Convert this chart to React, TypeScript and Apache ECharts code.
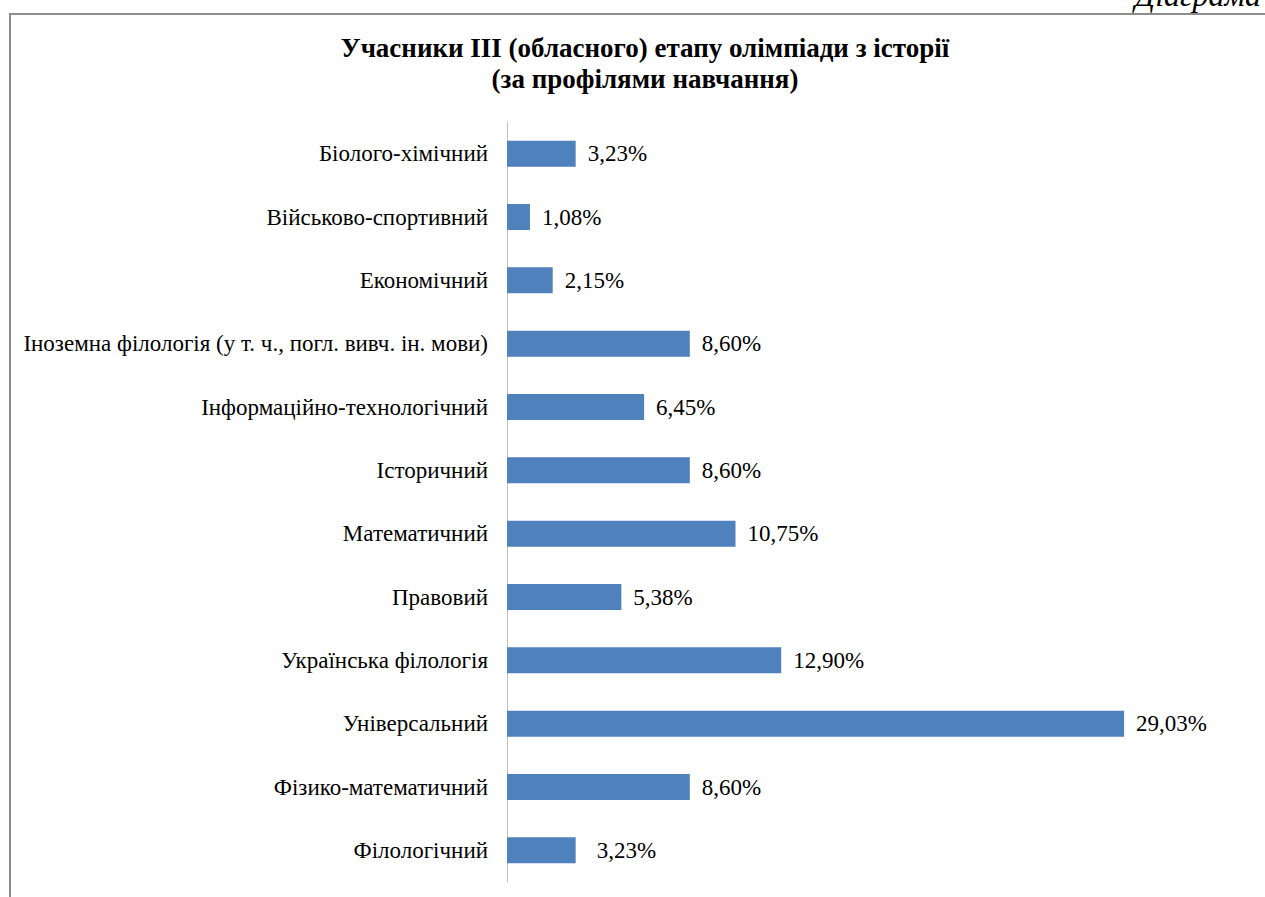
import React, { useEffect, useRef } from "react";
import * as echarts from "echarts";

const titleLines = ["Учасники III (обласного) етапу олімпіади з історії", "(за профілями навчання)"];
const cornerCaption = "Діаграма";
const categories = [
  "Біолого-хімічний",
  "Військово-спортивний",
  "Економічний",
  "Іноземна філологія (у т. ч., погл. вивч. ін. мови)",
  "Інформаційно-технологічний",
  "Історичний",
  "Математичний",
  "Правовий",
  "Українська філологія",
  "Універсальний",
  "Фізико-математичний",
  "Філологічний",
];
const values = [3.23, 1.08, 2.15, 8.6, 6.45, 8.6, 10.75, 5.38, 12.9, 29.03, 8.6, 3.23];
const axisMax = 35;

const FONT = "Liberation Serif";

export default function App() {
  const ref = useRef<HTMLDivElement>(null);
  useEffect(() => {
    if (!ref.current) return;
    const chart = echarts.init(ref.current, null, { renderer: "svg" });
    const data = values.map((v, i) => ({
      value: v,
      label: i === values.length - 1 ? { distance: 21 } : undefined,
    }));
    chart.setOption({
      animation: false,
      backgroundColor: "#ffffff",
      title: {
        text: titleLines.join("\n"),
        left: 640,
        textAlign: "center",
        top: 27,
        textStyle: {
          fontFamily: FONT,
          fontWeight: "bold",
          fontSize: 27,
          lineHeight: 31,
          color: "#000",
        },
      },
      graphic: [
        {
          type: "rect",
          shape: { x: 10, y: 14, width: 1300, height: 1000 },
          style: { fill: "none", stroke: "#8c8c8c", lineWidth: 2 },
          silent: true,
        },
        {
          type: "text",
          x: 1261,
          y: 11,
          style: {
            text: cornerCaption,
            fontFamily: FONT,
            fontStyle: "italic",
            fontSize: 32,
            fill: "#000",
            align: "right",
            verticalAlign: "bottom",
          },
          silent: true,
        },
      ],
      grid: { left: 507, right: 14, top: 122, bottom: 15, containLabel: false },
      xAxis: {
        type: "value",
        min: 0,
        max: axisMax,
        show: false,
        splitLine: { show: false },
      },
      yAxis: {
        type: "category",
        data: categories,
        inverse: true,
        axisTick: { show: false },
        axisLine: { show: true, lineStyle: { color: "#c0c0c0", width: 1 } },
        axisLabel: {
          margin: 19,
          fontFamily: FONT,
          fontSize: 23,
          color: "#000",
        },
        splitLine: { show: false },
      },
      series: [
        {
          type: "bar",
          data,
          barWidth: "41%",
          itemStyle: { color: "#4f81bd" },
          label: {
            show: true,
            position: "right",
            distance: 12,
            fontFamily: FONT,
            fontSize: 23,
            color: "#000",
            formatter: (p: any) => p.value.toFixed(2).replace(".", ",") + "%",
          },
        },
      ],
    });
    return () => chart.dispose();
  }, []);
  return (
    <div
      ref={ref}
      style={{ position: "fixed", left: 0, top: 0, width: 1265, height: 897, background: "#fff" }}
    />
  );
}
